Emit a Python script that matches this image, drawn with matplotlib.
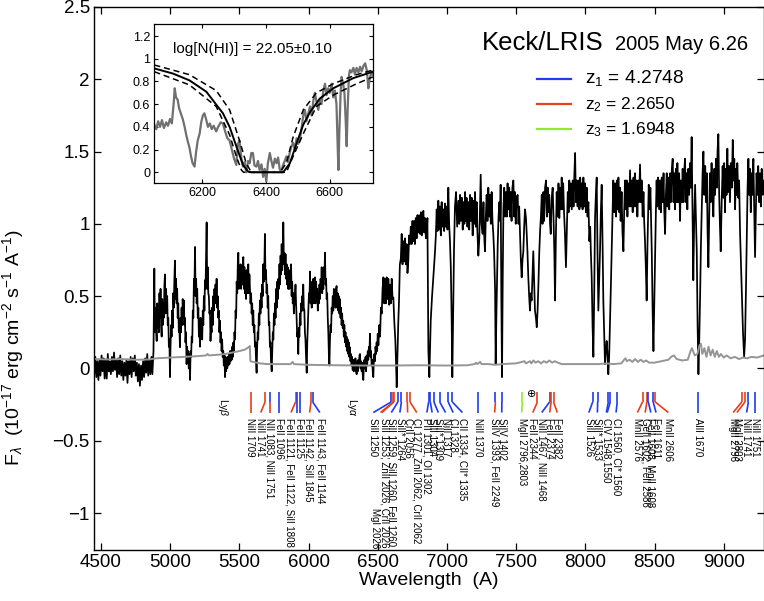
import matplotlib
matplotlib.use('Agg')
import matplotlib.pyplot as plt

plt.rcParams['font.family'] = ['Liberation Sans', 'DejaVu Sans']
plt.rcParams['mathtext.fontset'] = 'custom'
plt.rcParams['mathtext.rm'] = 'Liberation Sans'
plt.rcParams['mathtext.it'] = 'Liberation Sans:italic'
plt.rcParams['mathtext.bf'] = 'Liberation Sans:bold'

# ---- main spectrum (wavelength A, flux 1e-17 cgs) ----
spec_blue = [
    (4445, 0.05), (4452, -0.04), (4460, 0.08), (4467, -0.06), (4475, 0.05), (4482, -0.08), (4490, 0.06), (4497, -0.05),
    (4505, 0.09), (4512, -0.02), (4520, 0.07), (4527, -0.07), (4535, 0.06), (4542, -0.07), (4550, 0.10), (4557, -0.02),
    (4565, 0.05), (4572, -0.04), (4580, 0.08), (4587, -0.02), (4595, 0.11), (4602, -0.01), (4610, 0.06), (4617, -0.06),
    (4625, 0.07), (4632, -0.04), (4640, 0.09), (4647, -0.05), (4655, 0.05), (4662, -0.08), (4670, 0.04), (4677, -0.05),
    (4685, 0.06), (4692, -0.10), (4700, 0.05), (4707, -0.04), (4715, 0.08), (4722, -0.06), (4730, 0.07), (4737, -0.02),
    (4745, 0.09), (4752, -0.05), (4760, 0.04), (4767, -0.09), (4775, 0.03), (4782, -0.12), (4790, 0.02), (4797, -0.08),
    (4805, 0.05), (4812, -0.06), (4820, 0.07), (4827, -0.03), (4835, 0.10), (4842, -0.05), (4850, 0.06), (4857, -0.04),
    (4865, 0.08), (4872, -0.04), (4880, 0.12), (4886, 0.69), (4890, 0.25), (4894, 0.42), (4898, 0.30), (4903, 0.19),
    (4907, 0.45), (4911, 0.28), (4915, 0.40), (4919, 0.25), (4923, 0.52), (4927, 0.35), (4931, 0.55), (4935, 0.30),
    (4939, 0.22), (4943, 0.48), (4947, 0.30), (4951, 0.45), (4955, 0.35), (4959, 0.58), (4963, 0.65), (4967, 0.38),
    (4971, 0.55), (4975, 0.42), (4979, 0.50), (4983, 0.30), (4987, 0.35), (4991, 0.15), (4995, 0.20), (4999, -0.06),
    (5003, 0.15), (5007, 0.30), (5011, 0.22), (5015, 0.40), (5019, 0.28), (5023, 0.52), (5027, 0.42), (5031, 0.62),
    (5035, 0.745), (5039, 0.48), (5043, 0.62), (5047, 0.45), (5051, 0.55), (5055, 0.35), (5059, 0.45), (5063, 0.25),
    (5067, 0.30), (5071, 0.147), (5075, 0.35), (5079, 0.25), (5083, 0.42), (5087, 0.30), (5091, 0.48), (5095, 0.35),
    (5099, 0.47), (5103, 0.30), (5107, 0.35), (5111, 0.18), (5115, 0.25), (5119, 0.03), (5123, 0.15), (5127, 0.05),
    (5131, 0.12), (5135, 0.00), (5139, 0.10), (5144, -0.08), (5148, 0.12), (5152, 0.08), (5156, 0.22), (5160, 0.18),
    (5164, 0.40), (5168, 0.35), (5172, 0.62), (5176, 0.55), (5180, 0.84), (5184, 0.50), (5188, 0.62), (5192, 0.45),
    (5196, 0.55), (5200, 0.35), (5204, 0.42), (5208, 0.22), (5212, 0.28), (5216, 0.15), (5220, 0.35), (5224, 0.22),
    (5228, 0.32), (5232, 0.20), (5236, 0.40), (5240, 0.30), (5244, 0.50), (5248, 0.40), (5252, 0.61), (5256, 0.55),
    (5260, 0.80), (5264, 1.01), (5268, 0.55), (5272, 0.70), (5276, 0.52), (5280, 0.50), (5284, 0.38), (5288, 0.40),
    (5292, 0.19), (5296, 0.30), (5300, 0.25), (5304, 0.42), (5308, 0.30), (5312, 0.50), (5316, 0.40), (5320, 0.55),
    (5324, 0.45), (5328, 0.58), (5332, 0.45), (5336, 0.62), (5340, 0.42), (5344, 0.50), (5348, 0.35), (5352, 0.40),
    (5356, 0.25), (5360, 0.33), (5364, 0.18), (5368, 0.25), (5372, 0.12), (5376, 0.20), (5380, 0.08), (5384, 0.12),
    (5388, 0.02), (5392, 0.10), (5397, -0.06), (5401, 0.08), (5405, -0.02), (5409, 0.06), (5413, 0.00), (5417, 0.08),
    (5421, 0.02), (5425, 0.10), (5429, 0.03), (5433, 0.12), (5437, 0.05), (5441, 0.12), (5445, 0.06), (5449, 0.15),
    (5453, 0.08), (5457, 0.18), (5461, 0.12), (5465, 0.25), (5469, 0.20), (5473, 0.40), (5477, 0.35), (5481, 0.60),
    (5485, 0.52), (5489, 0.72), (5493, 0.80), (5497, 0.55), (5501, 0.70), (5505, 0.58), (5509, 0.72), (5513, 0.55),
    (5517, 0.68), (5521, 0.58), (5525, 0.72), (5529, 0.77), (5533, 0.55), (5537, 0.70), (5541, 0.52), (5545, 0.62),
    (5549, 0.48), (5553, 0.68), (5557, 0.52), (5561, 0.65), (5565, 0.72), (5569, 0.52), (5573, 0.65), (5577, 0.55),
    (5581, 0.45), (5585, 0.52), (5589, 0.38), (5593, 0.45), (5597, 0.30), (5601, 0.40), (5605, 0.25), (5609, 0.30),
    (5613, 0.15), (5617, 0.18), (5621, 0.05), (5625, -0.03), (5629, 0.15), (5633, 0.25), (5637, 0.20), (5641, 0.38),
    (5645, 0.30), (5649, 0.47), (5653, 0.38), (5657, 0.52), (5661, 0.42), (5665, 0.58), (5669, 0.50), (5673, 0.72),
    (5677, 0.60), (5681, 0.70), (5685, 0.93), (5689, 0.62), (5693, 0.68), (5697, 0.52), (5701, 0.58), (5705, 0.42),
    (5709, 0.50), (5713, 0.30), (5717, 0.32), (5721, 0.15), (5725, 0.18), (5729, 0.05), (5734, -0.02), (5738, 0.12),
    (5742, 0.25), (5746, 0.20), (5750, 0.38), (5754, 0.30), (5758, 0.45), (5762, 0.35), (5766, 0.55), (5770, 0.42),
    (5774, 0.60), (5778, 0.48), (5782, 0.62), (5786, 0.55), (5790, 0.72), (5794, 0.58), (5798, 0.78), (5802, 0.65),
    (5806, 0.86), (5810, 0.68), (5814, 0.80), (5818, 1.01), (5822, 0.72), (5826, 0.80), (5830, 0.65), (5834, 0.79),
    (5838, 0.62), (5842, 0.72), (5846, 0.58), (5850, 0.70), (5854, 0.55), (5858, 0.65), (5862, 0.55), (5866, 0.68),
    (5870, 0.60), (5874, 0.72), (5878, 0.50), (5882, 0.60), (5886, 0.45), (5890, 0.52), (5894, 0.38), (5898, 0.45),
    (5902, 0.50), (5906, 0.58), (5910, 0.45), (5914, 0.35), (5918, 0.22), (5922, 0.25), (5926, 0.10), (5930, 0.28),
    (5934, 0.22), (5938, 0.38), (5942, 0.30), (5946, 0.45), (5950, 0.40), (5954, 0.50), (5958, 0.40), (5962, 0.58),
    (5966, 0.42), (5970, 0.40), (5974, 0.25), (5978, 0.20), (5982, 0.08), (5987, -0.03), (5991, 0.18), (5995, 0.30),
    (5999, 0.40), (6003, 0.52), (6007, 0.48), (6011, 0.67), (6015, 0.45), (6019, 0.55), (6023, 0.42), (6027, 0.60),
    (6031, 0.48), (6035, 0.62), (6039, 0.45), (6043, 0.58), (6047, 0.63), (6051, 0.45), (6055, 0.60), (6059, 0.48),
    (6063, 0.55), (6067, 0.40), (6071, 0.52), (6075, 0.45), (6079, 0.58), (6083, 0.48), (6087, 0.62), (6091, 0.55),
    (6095, 0.70), (6099, 0.52), (6103, 0.65), (6107, 0.55), (6111, 0.70), (6115, 0.62), (6119, 0.80), (6123, 0.58),
    (6127, 0.62), (6131, 0.48), (6135, 0.52), (6139, 0.35), (6143, 0.25), (6147, 0.10), (6151, 0.02), (6155, 0.20),
    (6159, 0.30), (6163, 0.25), (6167, 0.42), (6171, 0.38), (6175, 0.50), (6179, 0.40), (6183, 0.55), (6187, 0.45),
    (6191, 0.52), (6195, 0.42), (6199, 0.55), (6203, 0.57), (6207, 0.42), (6211, 0.52), (6215, 0.40), (6219, 0.50),
    (6223, 0.38), (6227, 0.48), (6231, 0.35), (6235, 0.42), (6239, 0.30), (6243, 0.38), (6247, 0.28), (6251, 0.33),
    (6255, 0.22), (6259, 0.30), (6263, 0.18), (6267, 0.25), (6271, 0.15), (6275, 0.22), (6279, 0.12), (6283, 0.20),
    (6287, 0.10), (6291, 0.18), (6295, 0.08), (6299, 0.147), (6303, 0.05), (6307, 0.10), (6311, 0.02), (6315, 0.08),
    (6319, -0.01), (6323, 0.06), (6327, -0.02), (6331, 0.06), (6335, 0.00), (6339, 0.07), (6343, -0.02), (6348, -0.04),
    (6352, 0.05), (6356, -0.02), (6360, 0.06), (6364, 0.02), (6368, 0.09), (6372, 0.10), (6376, 0.00), (6380, 0.05),
    (6384, -0.02), (6388, 0.04), (6392, -0.05), (6396, -0.08), (6400, 0.02), (6404, 0.06), (6408, 0.00), (6412, 0.08),
    (6416, -0.02), (6420, 0.09), (6424, 0.02), (6428, 0.12), (6432, 0.06), (6436, 0.15), (6440, 0.10), (6444, 0.24),
    (6448, 0.08), (6452, 0.12), (6456, 0.02), (6460, 0.06), (6464, -0.02), (6468, -0.06), (6472, 0.05), (6476, 0.10),
    (6480, 0.05), (6484, 0.15), (6488, 0.10), (6492, 0.18), (6496, 0.12),
]
spec_red = [
    (6500, 0.24), (6505, 0.16), (6511, 0.30), (6517, 0.22), (6523, 0.42), (6529, 0.38), (6535, 0.55), (6541, 0.63),
    (6547, 0.45), (6553, 0.62), (6559, 0.45), (6565, 0.63), (6571, 0.48), (6577, 0.62), (6583, 0.44), (6589, 0.58),
    (6595, 0.45), (6601, 0.62), (6607, 0.48), (6613, 0.49), (6620, 0.32), (6627, 0.20), (6632, 0.05), (6637, -0.13),
    (6643, 0.10), (6648, 0.30), (6654, 0.47), (6660, 0.72), (6667, 0.76), (6673, 0.93), (6679, 0.72), (6685, 0.88),
    (6691, 0.74), (6697, 0.90), (6703, 0.72), (6709, 0.86), (6715, 0.66), (6721, 0.745), (6727, 0.92), (6733, 0.86),
    (6739, 0.98), (6745, 0.86), (6751, 1.02), (6757, 0.88), (6763, 1.02), (6769, 0.86), (6775, 1.04), (6781, 0.90),
    (6787, 1.06), (6793, 0.94), (6799, 1.06), (6806, 0.93), (6812, 1.08), (6818, 0.92), (6824, 1.06), (6830, 1.09),
    (6836, 0.94), (6842, 1.04), (6848, 0.90), (6854, 0.93), (6859, 1.04), (6866, 0.124), (6873, -0.06), (6883, 0.33),
    (6892, 0.49), (6902, 0.63), (6908, 0.72), (6914, 0.81), (6920, 0.92), (6926, 1.10), (6932, 0.95), (6938, 1.16),
    (6944, 0.96), (6950, 1.12), (6956, 0.92), (6962, 1.15), (6968, 0.98), (6974, 1.10), (6980, 0.95), (6986, 1.14),
    (6992, 0.98), (6998, 1.12), (7004, 0.96), (7010, 1.25), (7016, 1.00), (7022, 0.88), (7028, 0.70), (7034, 0.35),
    (7039, -0.06), (7045, 0.40), (7051, 0.81), (7058, 1.12), (7066, 1.22), (7074, 0.98), (7083, 1.16), (7089, 1.00),
    (7095, 1.20), (7101, 1.02), (7108, 1.18), (7114, 0.96), (7120, 1.15), (7126, 1.00), (7131, 1.22), (7137, 1.02),
    (7142, 1.18), (7148, 0.98), (7155, 1.15), (7161, 0.96), (7167, 1.20), (7173, 1.02), (7179, 1.18), (7186, 0.92),
    (7192, 1.16), (7197, 1.00), (7203, 1.22), (7209, 0.98), (7215, 1.15), (7220, 0.95), (7227, 0.78), (7234, 0.90),
    (7239, 1.12), (7244, 1.34), (7250, 1.00), (7258, 0.93), (7264, 1.15), (7270, 0.90), (7275, 0.81), (7281, 1.05),
    (7287, 1.20), (7293, 1.02), (7299, 1.25), (7305, 1.05), (7311, 1.20), (7317, 1.00), (7323, 1.22), (7329, 1.02),
    (7335, 0.93), (7341, 0.80), (7348, 0.54), (7352, 0.03), (7358, 0.40), (7367, 0.86), (7373, 1.05), (7379, 1.15),
    (7384, 1.02), (7388, 1.27), (7393, 0.50), (7398, -0.06), (7403, 0.60), (7408, 1.10), (7414, 1.25), (7420, 1.05),
    (7427, 1.22), (7433, 1.05), (7438, 1.28), (7444, 1.10), (7450, 1.25), (7455, 1.05), (7461, 1.22), (7467, 1.02),
    (7473, 1.25), (7480, 1.30), (7486, 1.05), (7491, 1.22), (7497, 1.00), (7503, 1.18), (7511, 1.20), (7517, 1.00),
    (7522, 1.12), (7528, 0.93), (7534, 0.75), (7540, 0.63), (7546, 0.75), (7552, 0.81), (7558, 0.98), (7564, 1.10),
    (7571, 1.04), (7577, 0.92), (7582, 0.80), (7588, 0.63), (7594, 0.50), (7600, 0.40), (7606, 0.52), (7612, 0.47),
    (7618, 0.65), (7624, 0.81), (7630, 0.60), (7636, 0.40), (7643, 0.35), (7649, 0.285), (7655, 0.40), (7661, 0.58),
    (7667, 0.80), (7673, 0.95), (7679, 1.05), (7685, 1.20), (7691, 1.00), (7697, 1.22), (7702, 1.02), (7709, 1.25),
    (7716, 1.30), (7722, 1.05), (7728, 1.25), (7733, 1.08), (7739, 1.20), (7745, 1.00), (7750, 0.93), (7757, 1.18),
    (7764, 1.25), (7770, 1.05), (7776, 0.80), (7781, 0.47), (7787, 0.90), (7793, 1.22), (7800, 1.05), (7806, 1.28),
    (7812, 1.04), (7818, 1.25), (7824, 1.10), (7829, 1.32), (7835, 1.10), (7840, 1.28), (7846, 1.08), (7852, 0.95),
    (7860, 0.70), (7866, 0.95), (7873, 1.22), (7879, 1.08), (7884, 1.30), (7889, 1.12), (7895, 1.28), (7902, 1.10),
    (7909, 1.30), (7915, 1.12), (7920, 1.32), (7926, 1.49), (7932, 1.15), (7938, 1.30), (7944, 1.12), (7950, 1.30),
    (7957, 1.10), (7963, 1.32), (7968, 1.12), (7974, 1.28), (7980, 1.10), (7986, 1.32), (7991, 1.12), (7997, 1.28),
    (8004, 1.08), (8010, 1.25), (8016, 1.05), (8022, 1.15), (8029, 0.88), (8035, 0.98), (8040, 0.80), (8046, 0.63),
    (8052, 0.30), (8058, 0.08), (8064, 0.50), (8070, 1.04), (8076, 1.20), (8082, 1.32), (8088, 0.80), (8094, 0.40),
    (8100, 0.60), (8106, 0.81), (8112, 1.08), (8118, 1.27), (8124, 0.90), (8130, 0.47), (8136, 0.25), (8142, 0.03),
    (8148, 0.12), (8154, 0.19), (8160, 0.10), (8166, -0.04), (8172, 0.08), (8178, 0.31), (8184, 0.55), (8190, 0.81),
    (8196, 1.05), (8202, 1.30), (8208, 1.08), (8215, 1.28), (8222, 1.05), (8228, 1.30), (8233, 1.10), (8239, 1.32),
    (8245, 1.08), (8250, 1.25), (8255, 1.02), (8262, 1.22), (8268, 0.95), (8275, 0.81), (8281, 1.10), (8287, 1.30),
    (8293, 1.10), (8299, 1.30), (8304, 1.05), (8310, 1.28), (8316, 1.12), (8323, 1.37), (8329, 1.12), (8335, 1.30),
    (8342, 1.08), (8348, 1.32), (8353, 1.12), (8359, 1.35), (8365, 1.12), (8370, 1.30), (8376, 1.05), (8382, 1.30),
    (8388, 1.15), (8395, 1.41), (8401, 1.15), (8407, 1.30), (8414, 1.05), (8420, 1.22), (8425, 1.02), (8431, 0.88),
    (8437, 0.70), (8443, 0.47), (8449, 0.85), (8458, 1.27), (8464, 1.10), (8470, 1.25), (8475, 1.04), (8480, 0.80),
    (8486, 0.40), (8492, 0.12), (8498, 0.45), (8504, 0.81), (8510, 1.10), (8515, 1.30), (8520, 1.12), (8526, 1.32),
    (8533, 1.10), (8540, 1.30), (8546, 1.08), (8552, 1.32), (8559, 1.15), (8565, 1.35), (8570, 1.10), (8576, 0.93),
    (8582, 1.20), (8588, 1.35), (8593, 1.12), (8600, 1.32), (8606, 1.10), (8612, 1.35), (8618, 1.15), (8625, 1.38),
    (8631, 1.45), (8637, 1.15), (8642, 1.35), (8648, 1.10), (8654, 1.38), (8660, 1.15), (8665, 1.42), (8671, 1.15),
    (8678, 1.35), (8684, 1.02), (8690, 1.30), (8697, 1.15), (8703, 1.38), (8709, 1.15), (8714, 1.35), (8720, 1.45),
    (8726, 1.15), (8731, 1.35), (8737, 1.10), (8743, 1.38), (8750, 1.20), (8756, 1.42), (8762, 1.25), (8768, 1.60),
    (8774, 1.10), (8780, 0.61), (8786, 1.00), (8793, 1.27), (8799, 1.05), (8805, 0.81), (8811, 0.30), (8817, -0.04),
    (8823, 0.20), (8829, 0.49), (8835, 0.85), (8841, 1.10), (8847, 1.35), (8853, 1.50), (8859, 1.20), (8866, 1.40),
    (8872, 1.15), (8878, 1.35), (8883, 0.95), (8889, 0.70), (8895, 1.05), (8900, 1.35), (8906, 1.15), (8912, 1.42),
    (8918, 1.20), (8925, 1.05), (8931, 1.38), (8937, 1.20), (8944, 1.45), (8950, 1.25), (8955, 1.50), (8961, 1.62),
    (8967, 1.20), (8972, 1.00), (8978, 0.81), (8985, 1.15), (8992, 1.40), (8998, 1.18), (9003, 1.42), (9009, 1.08),
    (9015, 1.38), (9020, 1.20), (9026, 1.52), (9032, 1.22), (9038, 1.40), (9045, 1.15), (9051, 1.42), (9058, 1.25),
    (9065, 1.58), (9071, 1.30), (9076, 1.45), (9082, 1.10), (9088, 1.38), (9093, 1.20), (9098, 1.42), (9105, 1.18),
    (9111, 1.30), (9118, 0.93), (9125, 0.70), (9132, 0.47), (9139, 0.25), (9147, 0.08), (9154, 0.20), (9161, 0.58),
    (9167, 0.95), (9172, 1.25), (9178, 1.45), (9184, 1.20), (9190, 1.38), (9195, 1.08), (9201, 1.35), (9207, 1.20),
    (9214, 1.45), (9220, 1.10), (9226, 0.77), (9232, 1.10), (9237, 1.35), (9243, 1.20), (9249, 1.40), (9256, 1.15),
    (9262, 1.35), (9268, 1.12), (9274, 1.38), (9282, 1.20), (9290, 1.30),
]

# 1-sigma error spectrum (grey)
err_wave = [4445, 4550, 4650, 4750, 4850, 4900, 5000, 5100, 5200, 5260, 5270, 5280, 5350, 5400, 5450, 5500,
            5540, 5565, 5576, 5580, 5600, 5650, 5700, 5800, 5870, 5885, 5895, 6000, 6200, 6400, 6600, 6800,
            7000, 7150, 7200, 7210, 7220, 7240, 7250, 7300, 7350, 7400, 7500, 7560, 7570, 7600, 7610, 7625,
            7640, 7660, 7680, 7700, 7720, 7740, 7760, 7780, 7800, 7830, 7900, 8000, 8100, 8150, 8200, 8260,
            8280, 8290, 8300, 8320, 8340, 8360, 8380, 8400, 8420, 8440, 8460, 8500, 8550, 8600, 8620, 8640,
            8660, 8700, 8740, 8760, 8770, 8790, 8810, 8825, 8835, 8845, 8860, 8875, 8890, 8905, 8920, 8935,
            8950, 8965, 8980, 9000, 9020, 9050, 9080, 9110, 9140, 9170, 9200, 9240, 9290]
err_flux = [0.065, 0.062, 0.065, 0.06, 0.062, 0.07, 0.075, 0.08, 0.085, 0.09, 0.10, 0.09, 0.095, 0.10, 0.11, 0.12,
            0.13, 0.145, 0.155, 0.05, 0.045, 0.035, 0.03, 0.03, 0.03, 0.045, 0.03, 0.025, 0.022, 0.02, 0.02, 0.022,
            0.02, 0.022, 0.03, 0.04, 0.03, 0.045, 0.03, 0.03, 0.025, 0.03, 0.035, 0.05, 0.035, 0.05, 0.035, 0.055,
            0.04, 0.05, 0.035, 0.05, 0.04, 0.055, 0.04, 0.05, 0.04, 0.03, 0.03, 0.03, 0.03, 0.035, 0.03, 0.035,
            0.06, 0.07, 0.05, 0.06, 0.045, 0.065, 0.045, 0.06, 0.045, 0.055, 0.04, 0.04, 0.05, 0.06, 0.08, 0.09,
            0.065, 0.055, 0.06, 0.12, 0.14, 0.09, 0.10, 0.16, 0.17, 0.10, 0.14, 0.08, 0.15, 0.09, 0.13, 0.08,
            0.12, 0.08, 0.10, 0.075, 0.09, 0.07, 0.08, 0.065, 0.075, 0.07, 0.08, 0.075, 0.09]

# ---- inset: normalised flux around the DLA ----
inset_spec = [
    (6050, 0.42), (6056, 0.38), (6062, 0.45), (6068, 0.40), (6074, 0.46), (6080, 0.39), (6087, 0.44), (6093, 0.41),
    (6099, 0.47), (6105, 0.43), (6111, 0.62), (6114, 0.74), (6118, 0.66), (6123, 0.64), (6128, 0.56), (6133, 0.52),
    (6139, 0.47), (6145, 0.40), (6150, 0.33), (6155, 0.27), (6160, 0.22), (6165, 0.14), (6170, 0.08), (6176, 0.05),
    (6181, 0.18), (6186, 0.28), (6192, 0.34), (6197, 0.44), (6202, 0.50), (6207, 0.52), (6213, 0.46), (6218, 0.40),
    (6224, 0.43), (6230, 0.38), (6236, 0.41), (6244, 0.36), (6250, 0.40), (6258, 0.44), (6265, 0.43), (6272, 0.36),
    (6279, 0.30), (6286, 0.28), (6293, 0.20), (6300, 0.12), (6307, 0.065), (6312, 0.25), (6317, 0.28), (6323, 0.12),
    (6328, 0.05), (6333, 0.09), (6338, 0.0), (6344, 0.10), (6349, 0.08), (6354, 0.17), (6359, 0.17), (6364, 0.06),
    (6370, 0.05), (6375, 0.10), (6380, 0.02), (6386, 0.07), (6391, -0.04), (6396, 0.03), (6401, -0.08), (6406, 0.08),
    (6412, 0.17), (6417, 0.10), (6422, 0.04), (6428, 0.12), (6433, 0.08), (6438, 0.13), (6443, 0.03), (6448, 0.0),
    (6453, 0.06), (6459, 0.10), (6464, 0.14), (6469, 0.09), (6475, 0.18), (6480, 0.23), (6485, 0.26), (6490, 0.20),
    (6496, 0.30), (6501, 0.25), (6506, 0.28), (6512, 0.40), (6517, 0.50), (6522, 0.55), (6527, 0.45), (6533, 0.52),
    (6538, 0.58), (6543, 0.50), (6548, 0.62), (6553, 0.70), (6558, 0.63), (6564, 0.55), (6569, 0.64), (6574, 0.60),
    (6580, 0.72), (6585, 0.78), (6590, 0.68), (6595, 0.74), (6600, 0.70), (6606, 0.78), (6611, 0.66), (6616, 0.72),
    (6621, 0.60), (6624, 0.30), (6627, 0.02), (6630, 0.35), (6634, 0.70), (6637, 0.84), (6642, 0.78), (6646, 0.70),
    (6650, 0.45), (6653, 0.23), (6656, 0.55), (6660, 0.85), (6663, 0.90), (6668, 0.88), (6674, 0.92), (6679, 0.86),
    (6684, 0.92), (6690, 0.88), (6695, 0.93), (6700, 0.89), (6706, 0.94), (6711, 0.96), (6716, 0.90), (6721, 0.74),
    (6725, 0.82), (6731, 0.89), (6735, 0.86),
]
fit_best = [(6050, 0.915), (6108, 0.87), (6160, 0.81), (6213, 0.71), (6265, 0.52), (6286, 0.40), (6307, 0.23),
            (6328, 0.065), (6344, 0.006), (6354, 0.0), (6454, 0.0), (6475, 0.08), (6496, 0.255), (6517, 0.42),
            (6538, 0.53), (6569, 0.65), (6611, 0.74), (6674, 0.83), (6735, 0.886)]
fit_low = [(6050, 0.945), (6160, 0.86), (6244, 0.72), (6286, 0.55), (6317, 0.28), (6338, 0.08), (6354, 0.0),
           (6443, 0.0), (6464, 0.08), (6485, 0.31), (6517, 0.55), (6558, 0.70), (6611, 0.78), (6684, 0.86), (6735, 0.90)]
fit_high = [(6050, 0.886), (6160, 0.77), (6244, 0.58), (6286, 0.33), (6307, 0.14), (6323, 0.02), (6330, 0.0),
            (6464, 0.0), (6485, 0.14), (6517, 0.34), (6558, 0.58), (6611, 0.68), (6684, 0.78), (6735, 0.84)]

# ---- absorption-line markers: line wavelength, label end, top colour, bottom colour ----
mark_top = [5582, 5686, 5719, 5786, 5906, 5919, 5937, 6018, 6030,
            6597, 6614, 6616, 6646, 6671, 6714, 6734, 6868, 6880, 6906, 6948, 7009, 7039,
            7227, 7350, 7397, 7545, 7654, 7742, 7753, 7770,
            8053, 8089, 8166, 8180, 8230, 8413, 8445, 8455, 8490, 8505, 8813,
            9130, 9153, 9178, 9226]
mark_bot = [5582, 5655, 5719, 5786, 5874, 5919, 5937, 6008, 6082,
            6468, 6520, 6530, 6598, 6660, 6716, 6782, 6855, 6893, 6938, 6990, 7045, 7112,
            7227, 7345, 7396, 7540, 7620, 7685, 7742, 7798,
            8025, 8087, 8152, 8158, 8222, 8376, 8432, 8473, 8511, 8600, 8813,
            9068, 9095, 9165, 9226]
mark_c1 = list('rrbbrbbrb' 'brrbbrrbbbbbb' 'bbbgrbrr' 'bbbbbrrbbrb' 'rrbb')
mark_c2 = list('rrrbrbbrb' 'brrbbrrbbbbbb' 'brbgrbrr' 'bbbbbrrbbrb' 'rrbb')

label_text = ['NiII 1709', 'NiII 1741', 'NII 1083, NiII 1751', 'FeII 1096', 'FeII 1121, FeII 1122, SiII 1808',
              'FeII 1125', 'FeII 1142, SiII 1845', 'FeII 1143, FeII 1144',
              'SiII 1250', 'SiII 1253, ZnII 2026, CrII 2026\nMgI 2026', 'SiII 1259, SiII 1260, FeII 1260',
              'SiII* 1264', 'CrII 2056', 'CI 1277, ZnII 2062, CrII 2062', 'PII 1301, OI 1302', 'SiII 1304',
              'SiII* 1309', 'NiII 1317', 'CI 1328', 'CII 1334, CII* 1335',
              'NiII 1370', 'SiIV 1393, FeII 2249', 'SiIV 1402', 'MgII 2796,2803', 'FeII 2344',
              'NiII 1467, NiII 1468', 'FeII 2374', 'FeII 2382',
              'SiII 1526', 'SiII* 1533', 'CIV 1548,1550', 'CI 1560, CI* 1560', 'MnII 2576',
              'GeII 1602, FeII 2586', 'FeII 1608, MnII 1608', 'FeII 1611', 'MnII 2606', 'AlII 1670',
              'MgII 2796', 'MgII 2803', 'NiII 1741', 'NiII 1751']
label_wave = [5580, 5652, 5717, 5786, 5866, 5930, 6002, 6084,
              6466, 6512, 6598, 6658, 6718, 6782, 6856, 6892, 6938, 6990, 7045, 7112,
              7227, 7342, 7396, 7540, 7618, 7682, 7740, 7798,
              8024, 8087, 8153, 8222, 8376, 8432, 8473, 8511, 8600, 8813,
              9064, 9095, 9162, 9226]

colours = {'b': '#1f3cf0', 'r': '#e4401c', 'g': '#96e632'}
z_text = ['4.2748', '2.2650', '1.6948']

fig = plt.figure(figsize=(7.64, 6.01), dpi=100)
ax = fig.add_axes([0.123, 0.085, 0.8765, 0.9035])

ax.plot([w for w, f in spec_blue + spec_red], [f for w, f in spec_blue + spec_red], color='black', lw=1.25)
ax.plot(err_wave, err_flux, color='#959595', lw=1.4)

y0, y1, y2 = -0.16, -0.232, -0.305
for top, bot, c1, c2 in zip(mark_top, mark_bot, mark_c1, mark_c2):
    ax.plot([top, top], [y0, y1], color=colours[c1], lw=1.2, solid_capstyle='butt')
    ax.plot([top, bot], [y1, y2], color=colours[c2], lw=1.2, solid_capstyle='butt')

for txt, w in zip(label_text, label_wave):
    ax.text(w, -0.345, txt, rotation=-90, ha='center', va='top', fontsize=7,
            multialignment='right', linespacing=0.95)

ax.text(5385, -0.205, r'Ly$\beta$', rotation=-90, ha='center', va='top', fontsize=7.5)
ax.text(6312, -0.205, r'Ly$\alpha$', rotation=-90, ha='center', va='top', fontsize=7.5)
ax.text(7612, -0.175, '\u2295', ha='center', va='center', fontsize=8, family=['DejaVu Sans'])

ax.set_xlim(4450, 9288)
ax.set_ylim(-1.255, 2.5)
ax.set_xticks([4500, 5000, 5500, 6000, 6500, 7000, 7500, 8000, 8500, 9000])
yt = [-1, -0.5, 0, 0.5, 1, 1.5, 2, 2.5]
ax.set_yticks(yt)
ax.set_yticklabels([('%g' % v).replace('-', '\u2212') for v in yt])
ax.tick_params(direction='in', top=True, right=True, length=5, width=0.9, labelsize=13.5, pad=3)
for s in ax.spines.values():
    s.set_linewidth(1.0)
ax.set_xlabel('Wavelength  (A)', fontsize=14, labelpad=1)
ax.set_ylabel(r'F$_\lambda$  (10$^{-17}$ erg cm$^{-2}$ s$^{-1}$ A$^{-1}$)', fontsize=14)
ax.yaxis.set_label_coords(-0.102, 0.373)

# title text and redshift key
ax.text(0.579, 0.921, 'Keck/LRIS', transform=ax.transAxes, fontsize=18.5, va='baseline')
ax.text(0.778, 0.921, '2005 May 6.26', transform=ax.transAxes, fontsize=14.5, va='baseline')
key_y = [0.868, 0.822, 0.776]
key_base = [0.859, 0.812, 0.766]
key_size = [13.8, 12.5, 12.5]
for i, (c, z) in enumerate(zip('brg', z_text)):
    ax.plot([0.661, 0.713], [key_y[i], key_y[i]], color=colours[c], lw=1.6, transform=ax.transAxes)
    ax.text(0.733, key_base[i], 'z$_%d$ = %s' % (i + 1, z), transform=ax.transAxes,
            fontsize=key_size[i], va='baseline')

# inset
ins = fig.add_axes([0.202, 0.695, 0.286, 0.265])
ins.plot([w for w, f in inset_spec], [f for w, f in inset_spec], color='#707070', lw=1.6)
ins.plot([w for w, f in fit_best], [f for w, f in fit_best], color='black', lw=1.4)
ins.plot([w for w, f in fit_low], [f for w, f in fit_low], color='black', lw=1.1, ls=(0, (4, 2.5)))
ins.plot([w for w, f in fit_high], [f for w, f in fit_high], color='black', lw=1.1, ls=(0, (4, 2.5)))
ins.set_xlim(6050, 6735)
ins.set_ylim(-0.097, 1.306)
ins.set_xticks([6200, 6400, 6600])
iy = [0, 0.2, 0.4, 0.6, 0.8, 1, 1.2]
ins.set_yticks(iy)
ins.set_yticklabels(['%g' % v for v in iy])
ins.tick_params(direction='in', top=True, right=True, length=3, width=0.8, labelsize=9, pad=3)
for s in ins.spines.values():
    s.set_linewidth(0.9)
ins.text(0.086, 0.816, 'log[N(HI)] = 22.05\u00b10.10', transform=ins.transAxes, fontsize=11, va='baseline')

fig.savefig('out.png', dpi=100)
